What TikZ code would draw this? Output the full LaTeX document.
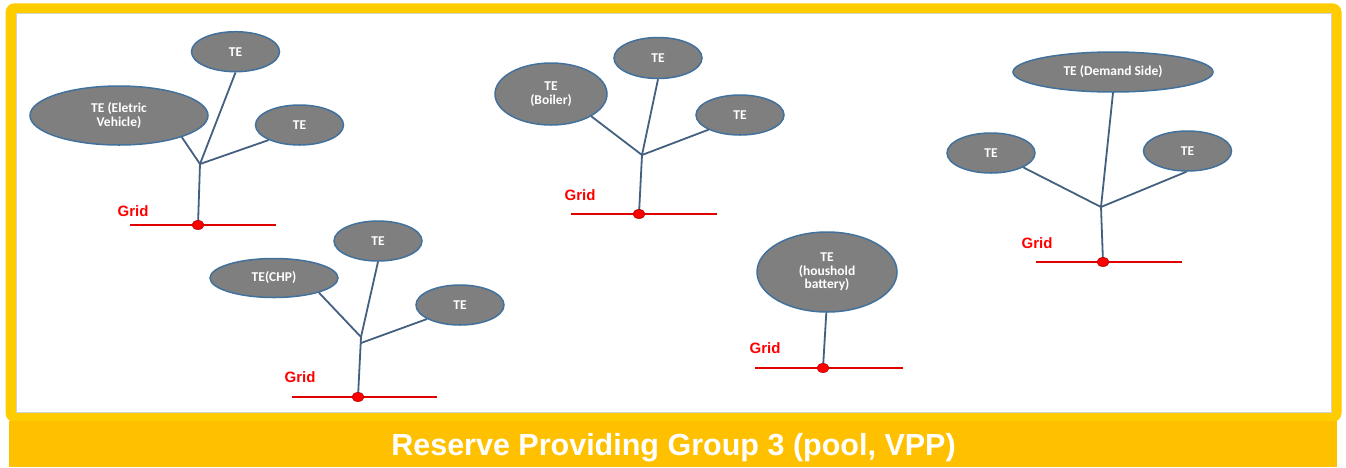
\documentclass[tikz,border=0pt]{standalone}
\usepackage{fontspec}
\setmainfont{Liberation Sans}
\newfontfamily\calib{Carlito}
\usetikzlibrary{shapes.geometric}
\definecolor{frameY}{HTML}{FFCC00}
\definecolor{bannerY}{HTML}{FFC000}
\definecolor{teFill}{HTML}{7F7F7F}
\definecolor{teLine}{HTML}{41719C}
\definecolor{wire}{HTML}{44607F}
\definecolor{gridRed}{HTML}{E00000}
\begin{document}
\begin{tikzpicture}[x=1pt,y=-1pt,
 te/.style={ellipse, draw=teLine, line width=1.5pt, fill=teFill, text=white,
   font=\calib\bfseries\fontsize{13.5}{13.5}\selectfont, align=center, inner sep=0pt},
 tesmall/.style={te, minimum width=88pt, minimum height=40pt},
 wireline/.style={draw=wire, line width=1.8pt},
 gridline/.style={draw=gridRed, line width=2pt},
 gdot/.style={ellipse, fill=red, draw=red!70!black, line width=0.6pt,
   minimum width=12pt, minimum height=9pt, inner sep=0pt},
 gridlabel/.style={text=red, font=\bfseries\fontsize{15}{15}\selectfont, inner sep=0pt}
]
\useasboundingbox (0,0) rectangle (1346,467);
\fill[white] (0,0) rectangle (1346,467);
% frame
\fill[frameY, rounded corners=9pt] (5.5,3.3) rectangle (1341.5,422);
\fill[white, draw=gray!35, line width=0.5pt] (16,13.3) rectangle (1331.7,412);
\fill[bannerY] (9,421) rectangle (1337,467);
\node[font=\bfseries\fontsize{30.5}{30.5}\selectfont, text=white, anchor=base, inner sep=0pt]
  (title) at (673.5,455) {Reserve Providing Group 3 (pool, VPP)};

% group 1
\node[tesmall] (a1) at (235.5,51.7) {TE};
\node[te, minimum width=178pt, minimum height=59pt] (a2) at (119,115.5) {TE (Eletric\\Vehicle)};
\node[tesmall] (a3) at (299.5,125) {TE};
\coordinate (ja) at (200,164);
\coordinate (ga) at (198,225);
\coordinate (gla) at (130,225);
\coordinate (glb) at (276,225);
\draw[wireline] (a2.-19) -- (ja);
\draw[wireline] (a1.-90) -- (ja);
\draw[wireline] (a3.206) -- (ja);
\draw[wireline] (ja) -- (ga);
\draw[gridline] (gla) -- (glb);
\node[gdot] (da) at (ga) {};
\node[gridlabel] (la) at (133,211) {Grid};

% group 2
\node[tesmall] (b1) at (378,241) {TE};
\node[te, minimum width=128pt, minimum height=39pt] (b2) at (274,278) {TE(CHP)};
\node[tesmall] (b3) at (460,305) {TE};
\coordinate (jb) at (361,337);
\coordinate (jb2) at (361,343);
\coordinate (gb) at (358,397);
\coordinate (gba) at (292,397);
\coordinate (gbb) at (437,397);
\draw[wireline] (b2.-18) -- (jb);
\draw[wireline] (b1.-90) -- (jb);
\draw[wireline] (b3.203) -- (jb2);
\draw[wireline] (jb) -- (gb);
\draw[gridline] (gba) -- (gbb);
\node[gdot] (db) at (gb) {};
\node[gridlabel] (lb) at (300,377) {Grid};

% group 3
\node[te, minimum width=88pt, minimum height=41pt] (c1) at (658,58) {TE};
\node[te, minimum width=112pt, minimum height=62pt] (c2) at (551,94) {TE\\(Boiler)};
\node[tesmall] (c3) at (740,115) {TE};
\coordinate (jc) at (642,155);
\coordinate (gc) at (639,214);
\coordinate (gca) at (571,214);
\coordinate (gcb) at (717,214);
\draw[wireline] (c2.-29) -- (jc);
\draw[wireline] (c1.-90) -- (jc);
\draw[wireline] (c3.205) -- (jc);
\draw[wireline] (jc) -- (gc);
\draw[gridline] (gca) -- (gcb);
\node[gdot] (dc) at (gc) {};
\node[gridlabel] (lc) at (580,195) {Grid};

% group 4
\node[te, minimum width=140pt, minimum height=80pt] (d1) at (827,272) {TE\\(houshold\\battery)};
\coordinate (gd) at (823,368);
\coordinate (gda) at (755,368);
\coordinate (gdb) at (903,368);
\draw[wireline] (d1.-91) -- (gd);
\draw[gridline] (gda) -- (gdb);
\node[gdot] (dd) at (gd) {};
\node[gridlabel] (ld) at (765,348) {Grid};

% group 5
\node[te, minimum width=200pt, minimum height=40pt] (e1) at (1113,72) {TE (Demand Side)};
\node[tesmall] (e2) at (991,153) {TE};
\node[tesmall] (e3) at (1187.5,151) {TE};
\coordinate (je) at (1101,207);
\coordinate (ge) at (1103,262);
\coordinate (gea) at (1036,262);
\coordinate (geb) at (1182,262);
\draw[wireline] (e1.-90) -- (je);
\draw[wireline] (e2.-24) -- (je);
\draw[wireline] (e3.-93) -- (je);
\draw[wireline] (je) -- (ge);
\draw[gridline] (gea) -- (geb);
\node[gdot] (de) at (ge) {};
\node[gridlabel] (le) at (1037,243) {Grid};
\end{tikzpicture}
\end{document}
